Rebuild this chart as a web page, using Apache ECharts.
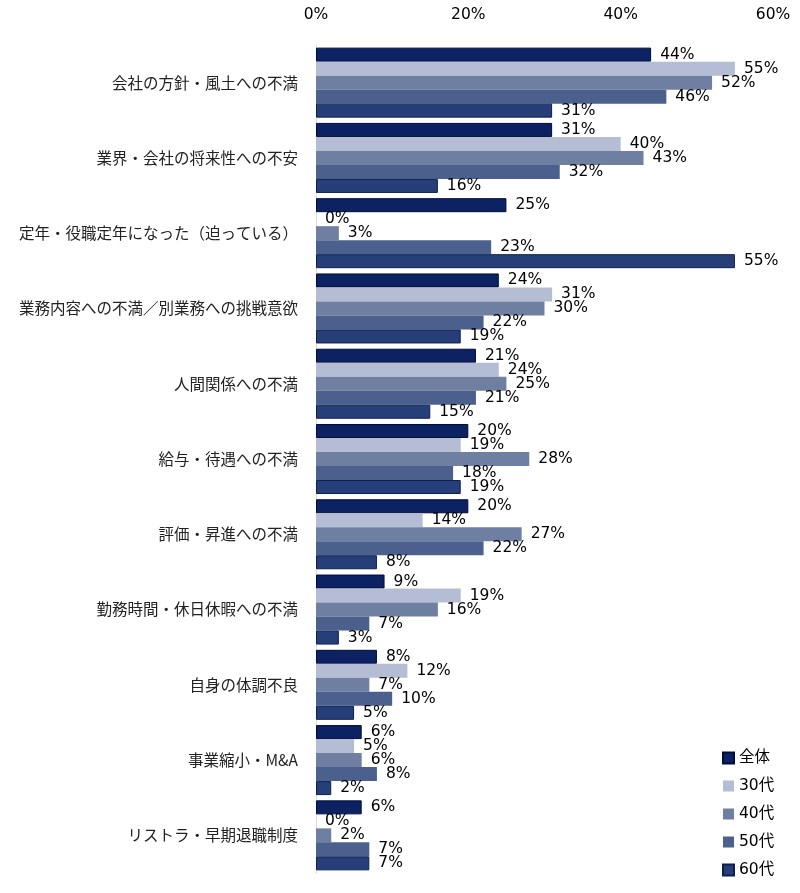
<!DOCTYPE html>
<html>
<head>
<meta charset="utf-8">
<script src="https://cdn.jsdelivr.net/npm/echarts@6/dist/echarts.min.js"></script>
<style>
  html, body { margin: 0; padding: 0; background: #fff; }
  #chart { width: 800px; height: 893px; }
</style>
</head>
<body>
<div id="chart"></div>
<script>
// 退職理由（年代別）
const categories = [
  '会社の方針・風土への不満',
  '業界・会社の将来性への不安',
  '定年・役職定年になった（迫っている）',
  '業務内容への不満／別業務への挑戦意欲',
  '人間関係への不満',
  '給与・待遇への不満',
  '評価・昇進への不満',
  '勤務時間・休日休暇への不満',
  '自身の体調不良',
  '事業縮小・M&A',
  'リストラ・早期退職制度'
];
const seriesNames = ['全体', '30代', '40代', '50代', '60代'];
const zentai = [44, 31, 25, 24, 21, 20, 20, 9, 8, 6, 6];
const age30 = [55, 40, 0, 31, 24, 19, 14, 19, 12, 5, 0];
const age40 = [52, 43, 3, 30, 25, 28, 27, 16, 7, 6, 2];
const age50 = [46, 32, 23, 22, 21, 18, 22, 7, 10, 8, 7];
const age60 = [31, 16, 55, 19, 15, 19, 8, 3, 5, 2, 7];
const xTicks = [0, 20, 40, 60];

const colors = ['#0c2262', '#b4bdd3', '#6f7fa2', '#4b608c', '#273f78'];
const borders = ['#000c3a', null, null, null, '#0d1f50'];
const fontFamily = 'Verdana, "DejaVu Sans", "Noto Sans CJK JP", sans-serif';

const chart = echarts.init(document.getElementById('chart'));

const values = [zentai, age30, age40, age50, age60];
const series = values.map(function (v, i) {
  return {
    name: seriesNames[i],
    type: 'bar',
    data: v,
    barCategoryGap: '7%',
    barGap: '0%',
    itemStyle: {
      color: colors[i],
      borderColor: borders[i] || colors[i],
      borderWidth: borders[i] ? 1 : 0
    },
    label: {
      show: true,
      position: 'right',
      distance: 9,
      formatter: '{c}%',
      color: '#000',
      fontSize: 15.5,
      fontFamily: fontFamily
    }
  };
});

chart.setOption({
  animation: false,
  color: colors,
  grid: { left: 316, right: 27, top: 45, bottom: 20, containLabel: false },
  legend: {
    orient: 'vertical',
    left: 722,
    top: 749,
    padding: 0,
    height: 140,
    itemWidth: 11,
    itemHeight: 11,
    itemGap: 10,
    icon: 'rect',
    data: seriesNames,
    textStyle: { fontSize: 15.5, color: '#000', fontFamily: fontFamily, lineHeight: 18 }
  },
  xAxis: {
    type: 'value',
    position: 'top',
    min: xTicks[0],
    max: xTicks[xTicks.length - 1],
    interval: 20,
    axisLine: { show: false },
    axisTick: { show: false },
    splitLine: { show: false },
    axisLabel: {
      formatter: '{value}%',
      fontSize: 15.5,
      color: '#000',
      margin: 22,
      fontFamily: fontFamily
    }
  },
  yAxis: {
    type: 'category',
    inverse: true,
    data: categories,
    axisLine: { show: true, lineStyle: { color: '#d9d9d9', width: 1 } },
    axisTick: { show: false },
    axisLabel: {
      fontSize: 15.5,
      color: '#222',
      margin: 18,
      fontFamily: '"Noto Sans CJK JP", sans-serif'
    }
  },
  series: series
});
</script>
</body>
</html>
